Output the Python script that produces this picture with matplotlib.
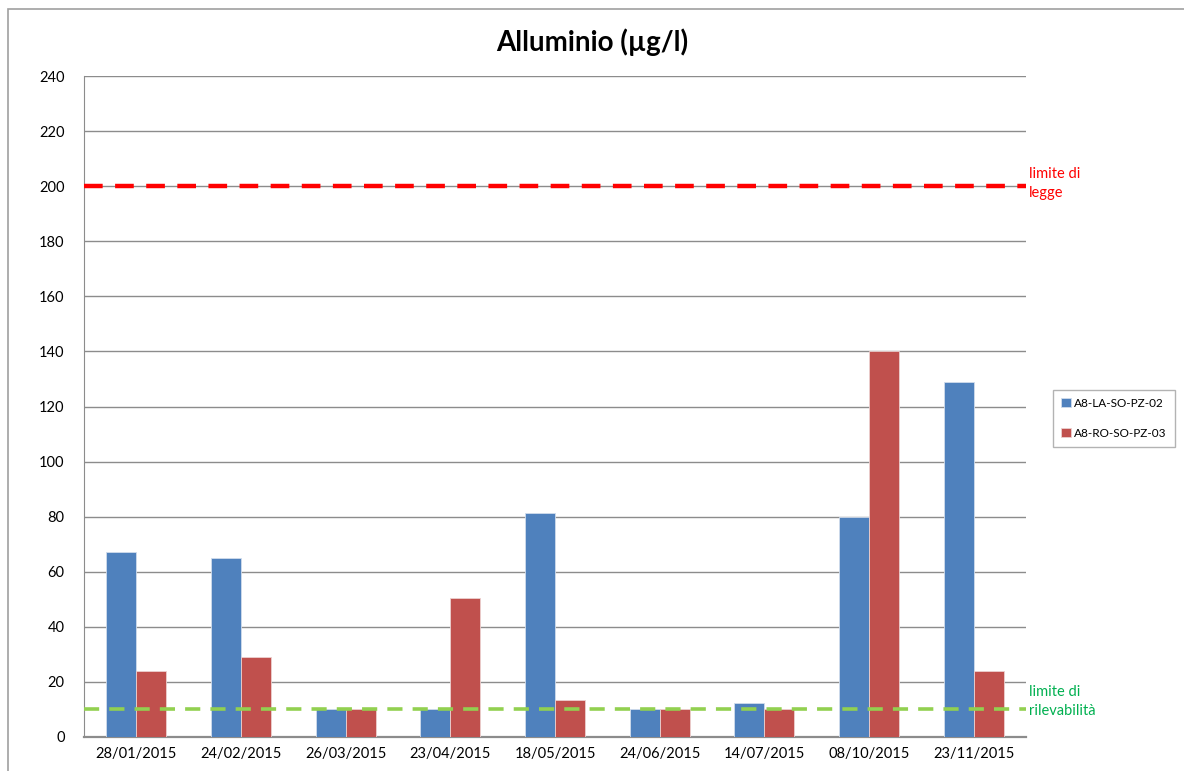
import numpy as np
import matplotlib
matplotlib.use("Agg")
from matplotlib import pyplot as plt
from matplotlib.patches import Rectangle

plt.rcParams['font.family'] = ['Lato', 'DejaVu Sans']

dates = ['28/01/2015', '24/02/2015', '26/03/2015', '23/04/2015', '18/05/2015',
         '24/06/2015', '14/07/2015', '08/10/2015', '23/11/2015']
la_so_pz_02 = [67, 65, 10, 10, 81.5, 10, 12.3, 80, 129]
ro_so_pz_03 = [24, 29, 10, 50.5, 13.5, 10, 10, 140, 24]
limite_legge = 200
limite_rilevabilita = 10

fig = plt.figure(figsize=(11.84, 7.71), dpi=100)
ax = fig.add_axes([0.0709, 0.0441, 0.7957, 0.8573])

# outer chart border
fig.patches.append(Rectangle((8 / 1184, -0.05), 1.2, 1 - 9 / 771 + 0.05, transform=fig.transFigure,
                             fill=False, edgecolor='#a0a0a0', linewidth=1.2))

x = np.arange(len(dates))
w = 0.287
ax.bar(x - w / 2, la_so_pz_02, w, color='#4F81BD', edgecolor='#d0dcec', linewidth=0.6,
       label='A8-LA-SO-PZ-02', zorder=3)
ax.bar(x + w / 2, ro_so_pz_03, w, color='#C0504D', edgecolor='#ecd0cf', linewidth=0.6,
       label='A8-RO-SO-PZ-03', zorder=3)

ax.axhline(limite_legge, color='#FF0000', linewidth=3.2, dashes=(4.2, 2.8), zorder=4)
ax.axhline(limite_rilevabilita, color='#92D050', linewidth=2.6, dashes=(4.2, 2.8), zorder=4)

ax.set_xlim(-0.5, len(dates) - 0.5)
ax.set_ylim(0, 240)
ax.set_yticks(range(0, 241, 20))
ax.set_xticks(x)
ax.set_xticklabels(dates)
ax.tick_params(axis='both', length=0, labelsize=10.5, colors='black')
ax.tick_params(axis='y', pad=14)
ax.tick_params(axis='x', pad=7)
ax.yaxis.grid(True, color='#8c8c8c', linewidth=1.0, zorder=0)
ax.set_axisbelow(True)
for s in ['top', 'right']:
    ax.spines[s].set_visible(False)
ax.spines['left'].set_color('#8c8c8c')
ax.spines['bottom'].set_color('#8c8c8c')
ax.spines['bottom'].set_linewidth(1.6)

fig.text(0.5, 0.945, 'Alluminio (µg/l)', ha='center', va='center', fontsize=20, fontweight='bold')

ax.text(1.003, limite_legge + 1, 'limite di\nlegge', transform=ax.get_yaxis_transform(),
        color='#FF0000', fontsize=10.5, va='center', ha='left', linespacing=1.45)
ax.text(1.003, limite_rilevabilita + 3, 'limite di\nrilevabilità', transform=ax.get_yaxis_transform(),
        color='#00B050', fontsize=10.5, va='center', ha='left', linespacing=1.45)

ax.legend(loc='center left', bbox_to_anchor=(1.0287, 0.482), fontsize=8.5, frameon=True,
          fancybox=False, edgecolor='#a0a0a0', handlelength=0.8, handleheight=0.8,
          handletextpad=0.3, labelspacing=1.6, borderpad=0.7, borderaxespad=0)

fig.savefig('out.png', dpi=100)
